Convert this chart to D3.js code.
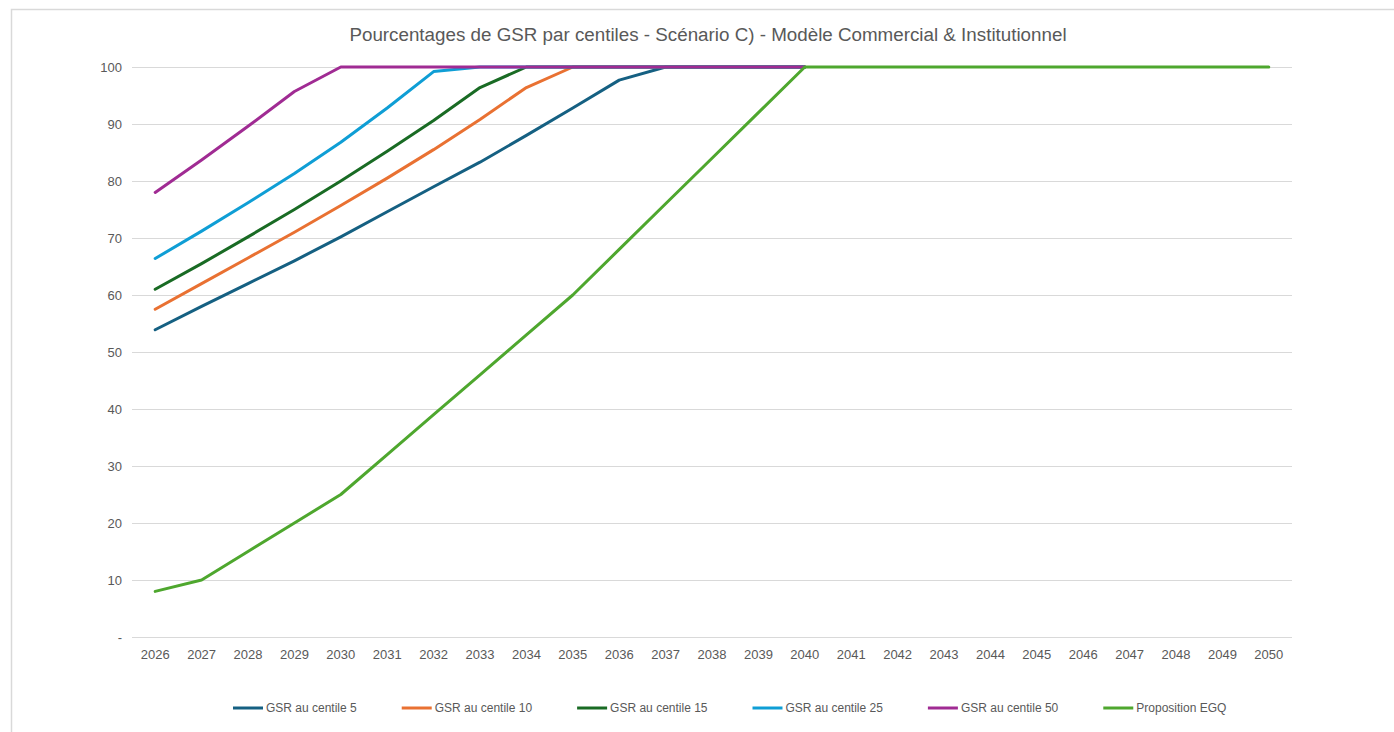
<!DOCTYPE html>
<html>
<head>
<meta charset="utf-8">
<script src="https://cdn.jsdelivr.net/npm/d3@7"></script>
<style>
  body { margin: 0; background: #fff; }
  svg { display: block; font-family: "Liberation Sans", Arial, sans-serif; }
</style>
</head>
<body>
<svg id="chart" width="1394" height="732"></svg>
<script>
// years on the x axis
var years = d3.range(2026, 2051);
var yTicks = [0, 10, 20, 30, 40, 50, 60, 70, 80, 90, 100];

// GSR percentiles, 2026 -> 2040
var gsr5  = [53.9, 58, 62, 66, 70.2, 74.6, 79, 83.3, 88, 92.8, 97.7, 100, 100, 100, 100];
var gsr10 = [57.5, 62, 66.5, 71, 75.7, 80.5, 85.5, 90.8, 96.4, 100, 100, 100, 100, 100, 100];
var gsr15 = [61, 65.5, 70.2, 75, 80, 85.2, 90.6, 96.4, 100, 100, 100, 100, 100, 100, 100];
var gsr25 = [66.4, 71.2, 76.2, 81.3, 86.8, 92.8, 99.2, 100, 100, 100, 100, 100, 100, 100, 100];
var gsr50 = [78, 83.7, 89.6, 95.7, 100, 100, 100, 100, 100, 100, 100, 100, 100, 100, 100];
// Proposition EGQ, 2026 -> 2050
var egq   = [8, 10, 15, 20, 25, 32, 39, 46, 53, 60, 68, 76, 84, 92, 100,
             100, 100, 100, 100, 100, 100, 100, 100, 100, 100];

var seriesNames = ['GSR au centile 5', 'GSR au centile 10', 'GSR au centile 15',
                   'GSR au centile 25', 'GSR au centile 50', 'Proposition EGQ'];
var seriesColors = ['#156082', '#E97132', '#196B24', '#0F9ED5', '#A02B93', '#4EA72E'];
var seriesValues = [gsr5, gsr10, gsr15, gsr25, gsr50, egq];

var svg = d3.select('#chart');
var plot = {left: 132, right: 1292, top: 67, bottom: 637};

svg.append('rect')
    .attr('width', 1394).attr('height', 732).attr('fill', '#fff');
svg.append('rect')
    .attr('x', 11.5).attr('y', 9.5)
    .attr('width', 1500).attr('height', 800)
    .attr('fill', 'none').attr('stroke', '#d9d9d9').attr('stroke-width', 1.5);

var x = d3.scaleBand().domain(years).range([plot.left, plot.right]);
var y = d3.scaleLinear().domain([0, 100]).range([plot.bottom, plot.top]);

// title
svg.append('text')
    .attr('x', 708).attr('y', 41)
    .attr('text-anchor', 'middle')
    .attr('fill', '#595959')
    .style('font-size', '18.8px')
    .text('Pourcentages de GSR par centiles - Scénario C) - Modèle Commercial & Institutionnel');

// y grid + labels
var yAxis = svg.append('g')
    .attr('transform', 'translate(' + plot.left + ',0)')
    .call(d3.axisLeft(y).tickValues(yTicks)
        .tickSize(-(plot.right - plot.left))
        .tickPadding(10)
        .tickFormat(function (d) { return d === 0 ? '-' : d; }));
yAxis.select('.domain').remove();
yAxis.selectAll('.tick line').attr('stroke', '#d9d9d9').attr('stroke-width', 1);
yAxis.selectAll('.tick text')
    .attr('fill', '#595959')
    .style('font-size', '13px')
    .style('font-family', '"Liberation Sans", Arial, sans-serif');

// x labels
var xAxis = svg.append('g')
    .attr('transform', 'translate(0,' + plot.bottom + ')')
    .call(d3.axisBottom(x).tickSize(0).tickPadding(13));
xAxis.select('.domain').remove();
xAxis.selectAll('.tick text')
    .attr('fill', '#595959')
    .style('font-size', '13px')
    .style('font-family', '"Liberation Sans", Arial, sans-serif');

// lines
var line = d3.line()
    .x(function (d, i) { return x(years[i]) + x.bandwidth() / 2; })
    .y(function (d) { return y(d); });

svg.append('g').selectAll('path')
    .data(seriesValues)
    .enter().append('path')
    .attr('d', line)
    .attr('fill', 'none')
    .attr('stroke', function (d, i) { return seriesColors[i]; })
    .attr('stroke-width', 3)
    .attr('stroke-linejoin', 'round')
    .attr('stroke-linecap', 'round');

// legend
var legend = svg.append('g').attr('transform', 'translate(233,708)');
var lx = 0;
seriesNames.forEach(function (name, i) {
    var item = legend.append('g').attr('transform', 'translate(' + lx + ',0)');
    item.append('line')
        .attr('x1', 0).attr('x2', 30)
        .attr('stroke', seriesColors[i]).attr('stroke-width', 3);
    var t = item.append('text')
        .attr('x', 33).attr('dy', '0.35em')
        .attr('fill', '#595959')
        .style('font-size', '12px')
        .text(name);
    lx += 33 + t.node().getComputedTextLength() + 45;
});
</script>
</body>
</html>
